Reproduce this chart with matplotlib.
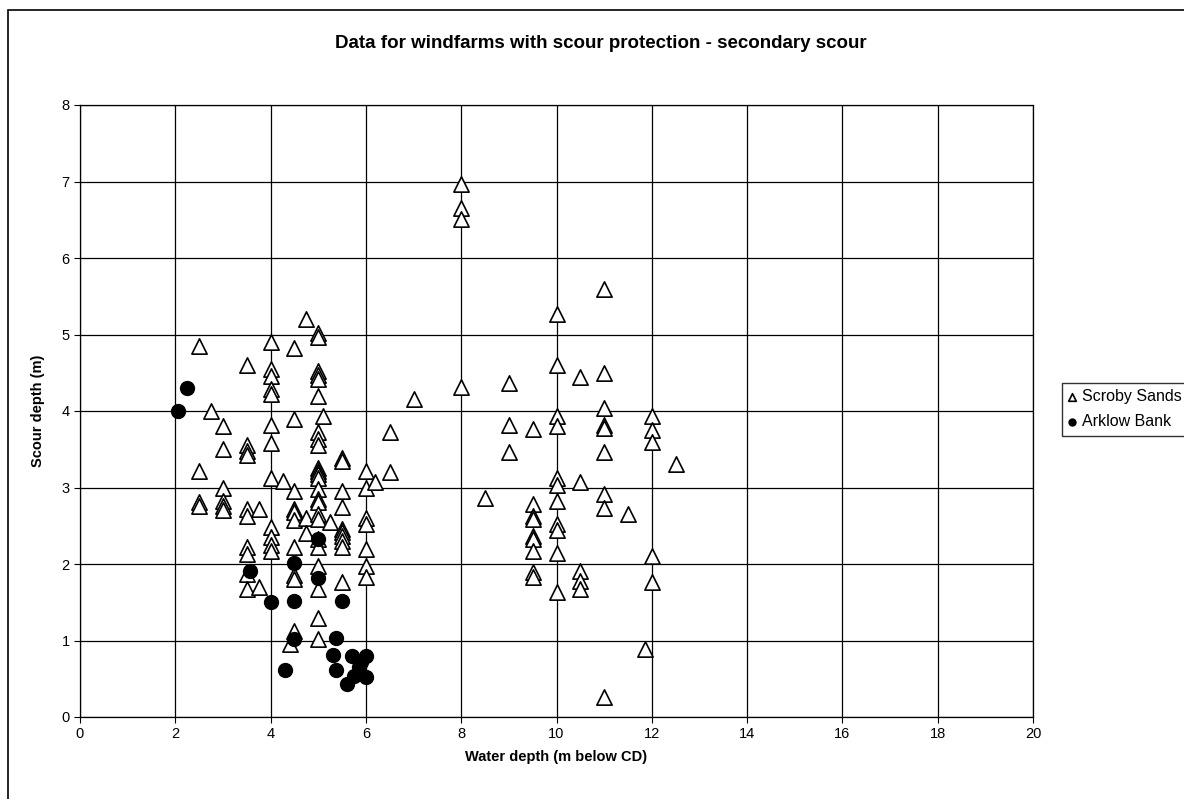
import matplotlib.pyplot as plt
from matplotlib.patches import Rectangle

plt.rcParams['font.family'] = ['Liberation Sans', 'DejaVu Sans']

# Scroby Sands (triangles): water depth -> scour depths read at that depth
scroby_depths = [2.5, 2.75, 3, 3.5, 3.75, 4, 4.25, 4.4, 4.5, 4.75, 5, 5.1, 5.25,
                 5.5, 6, 6.2, 6.5, 7, 8, 8.5, 9, 9.5, 10, 10.5, 11, 11.5, 11.85,
                 12, 12.5]
scroby_scour = [
    [4.85, 3.22, 2.81, 2.76],
    [4.0],
    [3.8, 3.5, 3.0, 2.83, 2.76, 2.7],
    [4.6, 3.55, 3.48, 3.42, 2.72, 2.63, 2.22, 2.13, 1.87, 1.67],
    [2.72, 1.7],
    [4.9, 4.55, 4.46, 4.29, 4.22, 3.82, 3.58, 3.13, 2.48, 2.35, 2.25, 2.17],
    [3.08],
    [0.95],
    [4.83, 3.9, 2.95, 2.72, 2.68, 2.58, 2.22, 1.85, 1.81, 1.13],
    [5.2, 2.6, 2.4],
    [5.02, 4.97, 4.52, 4.47, 4.42, 4.2, 3.72, 3.63, 3.55, 3.26, 3.22, 3.17,
     3.12, 2.98, 2.85, 2.81, 2.65, 2.59, 2.33, 2.22, 1.98, 1.67, 1.3, 1.02],
    [3.93],
    [2.55],
    [3.39, 3.35, 2.95, 2.74, 2.46, 2.42, 2.37, 2.3, 2.22, 1.76],
    [3.22, 2.99, 2.6, 2.52, 2.2, 1.97, 1.83],
    [3.07],
    [3.72, 3.2],
    [4.16],
    [6.97, 6.66, 6.51, 4.31],
    [2.86],
    [4.37, 3.82, 3.47],
    [3.76, 2.79, 2.63, 2.59, 2.37, 2.33, 2.17, 1.89, 1.83],
    [5.27, 4.6, 3.94, 3.8, 3.13, 3.03, 2.83, 2.52, 2.44, 2.15, 1.63],
    [4.45, 3.07, 1.91, 1.78, 1.67],
    [5.6, 4.5, 4.04, 3.82, 3.78, 3.46, 2.91, 2.73, 0.26],
    [2.66],
    [0.89],
    [3.94, 3.75, 3.6, 2.11, 1.76],
    [3.31],
]

# Arklow Bank (filled circles)
arklow_x = [2.05, 2.25, 3.56, 4.0, 4.3, 4.5, 4.5, 4.5, 5.0, 5.0, 5.3,
            5.38, 5.38, 5.5, 5.6, 5.7, 5.75, 5.85, 5.9, 6.0, 6.0]
arklow_y = [4.0, 4.3, 1.91, 1.5, 0.62, 2.01, 1.51, 1.02, 2.33, 1.82, 0.81,
            1.03, 0.62, 1.51, 0.43, 0.8, 0.54, 0.65, 0.72, 0.8, 0.52]

scroby_x = []
scroby_y = []
for d, ys in zip(scroby_depths, scroby_scour):
    scroby_x += [d] * len(ys)
    scroby_y += ys

fig = plt.figure(figsize=(11.84, 7.99), dpi=100)
ax = fig.add_axes([80 / 1184, 1 - 717 / 799, (1033 - 80) / 1184, (717 - 105) / 799])

ax.scatter(scroby_x, scroby_y, marker='^', s=121, facecolors='white',
           edgecolors='black', linewidths=1.2, label='Scroby Sands', zorder=3)
ax.scatter(arklow_x, arklow_y, marker='o', s=100, color='black',
           label='Arklow Bank', zorder=4)

ax.set_xlim(0, 20)
ax.set_ylim(0, 8)
ax.set_xticks(range(0, 21, 2))
ax.set_yticks(range(0, 9))
ax.grid(True, color='black', linewidth=0.9)
ax.set_axisbelow(True)
for sp in ax.spines.values():
    sp.set_color('black')
    sp.set_linewidth(0.9)
ax.tick_params(direction='out', length=4, labelsize=10.5, colors='black')

ax.set_xlabel('Water depth (m below CD)', fontsize=10.5, fontweight='bold', labelpad=6)
ax.set_ylabel('Scour depth (m)', fontsize=10.5, fontweight='bold', labelpad=12)
fig.text(601 / 1184, 1 - 44 / 799, 'Data for windfarms with scour protection - secondary scour',
         ha='center', va='center', fontsize=13.5, fontweight='bold')

fig.legend(loc='upper left', bbox_to_anchor=(1062 / 1184, 1 - 383 / 799),
           frameon=True, fancybox=False, edgecolor='black', fontsize=11.5,
           markerscale=0.5, handletextpad=0.35, borderpad=0.4, labelspacing=0.62,
           handlelength=0.5, borderaxespad=0)

# outer chart frame
fig.patches.append(Rectangle((8 / 1184, -0.02), 1.1, 1 - 10 / 799 + 0.02,
                             transform=fig.transFigure, fill=False,
                             edgecolor='black', linewidth=1.2))

fig.savefig('out.png', dpi=100)
